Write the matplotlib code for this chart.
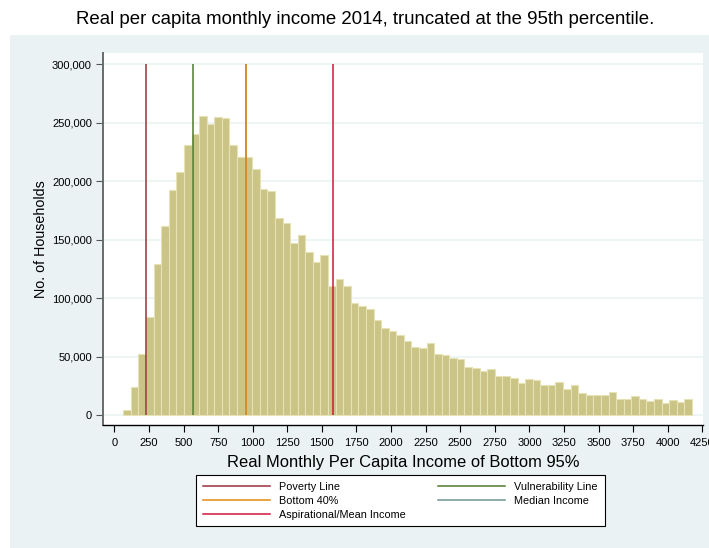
#!/usr/bin/env python3

# Import libraries
import matplotlib.pyplot as plt
import numpy as np
from matplotlib.patches import Rectangle
from matplotlib.ticker import FuncFormatter
from matplotlib.lines import Line2D

plt.rcParams["font.family"] = ["Liberation Sans", "DejaVu Sans"]

# Histogram: 75 bins starting at 65, ~54.8 wide
bin_start = 65
bin_width = 54.8
counts = [4000, 24000, 52000, 84000, 129000, 161500, 192000, 208000, 230500, 240500,
          256000, 249000, 255000, 254000, 231000, 221000, 220500, 210500, 193500, 191500,
          168500, 164500, 147000, 154000, 139000, 130500, 136500, 110500, 116000, 110500,
          95500, 93000, 90500, 81000, 74500, 71500, 68500, 63500, 58500, 57500,
          62000, 52000, 51000, 48500, 48000, 41500, 40500, 38000, 39000, 33500,
          33500, 31500, 27500, 30500, 30000, 26000, 25500, 28500, 22000, 25500,
          18500, 17000, 17000, 17500, 19500, 13500, 14000, 16000, 13500, 12000,
          14000, 10500, 12500, 11500, 13500]

# Reference lines
line_names = ["Poverty Line", "Bottom 40%", "Aspirational/Mean Income",
              "Vulnerability Line", "Median Income"]
line_values = [227, 949, 1578, 566, 949]
line_colors = ["#9B3039", "#E58A12", "#D2163C", "#4F7A28", "#6F9292"]

x_ticks = list(range(0, 4251, 250))
y_ticks = [0, 50000, 100000, 150000, 200000, 250000, 300000]

bin_left = bin_start + bin_width * np.arange(len(counts))

fig = plt.figure(figsize=(7.09, 5.48), dpi=100)
fig.patch.set_facecolor("white")
# light blue-grey graph region below the title
fig.patches.append(Rectangle((10 / 709, 0), 1, (548 - 35) / 548,
                             transform=fig.transFigure, facecolor="#EAF2F3",
                             edgecolor="none", zorder=-10))

ax = fig.add_axes([103 / 709, 1 - 425 / 548, 600 / 709, 372 / 548])
ax.set_facecolor("white")

ax.bar(bin_left, counts, width=bin_width, align="edge", color="#CBC487",
       edgecolor="#E6E2B6", linewidth=0.8, zorder=2)

# median line sits under the bottom 40% one
for name, val, col in zip(line_names, line_values, line_colors):
    z = 2.5 if name == "Median Income" else 3
    ax.vlines(val, 0, 300000, color=col, linewidth=1.1, zorder=z)

ax.set_xlim(-82, 4255)
ax.set_ylim(-8500, 309500)
ax.set_xticks(x_ticks)
ax.set_yticks(y_ticks)
ax.yaxis.set_major_formatter(FuncFormatter(lambda v, p: f"{int(v):,}"))
ax.tick_params(axis="both", labelsize=8, length=5, width=0.8, colors="black")
ax.tick_params(axis="y", direction="out", pad=3, color="#555555")
ax.tick_params(axis="x", pad=4)
ax.grid(axis="y", color="#EAF2F3", linewidth=1.1, zorder=1)
ax.set_axisbelow(True)

for s in ["top", "right"]:
    ax.spines[s].set_visible(False)
ax.spines["left"].set_color("#6A6A6A")
ax.spines["left"].set_linewidth(1.4)
ax.spines["bottom"].set_color("black")
ax.spines["bottom"].set_linewidth(1.0)

ax.set_xlabel("Real Monthly Per Capita Income of Bottom 95%", fontsize=11.9, labelpad=5.5)
ax.set_ylabel("No. of Households", fontsize=10.3, labelpad=3)

fig.text(365 / 709, 1 - 20 / 548,
         "Real per capita monthly income 2014, truncated at the 95th percentile.",
         ha="center", va="center", fontsize=13.4)

handles = [Line2D([], [], color=c, linewidth=1.1) for c in line_colors]
leg = fig.legend(handles, line_names, ncol=2, loc="upper left",
                 bbox_to_anchor=(196 / 709, 1 - 475 / 548),
                 fontsize=7.8, frameon=True, fancybox=False, framealpha=1,
                 facecolor="white", edgecolor="black", handlelength=6.2,
                 handletextpad=0.9, labelspacing=0.38, columnspacing=2.9,
                 borderaxespad=0, borderpad=0.6)
leg.get_frame().set_linewidth(0.8)

fig.savefig("out.png", dpi=100)
